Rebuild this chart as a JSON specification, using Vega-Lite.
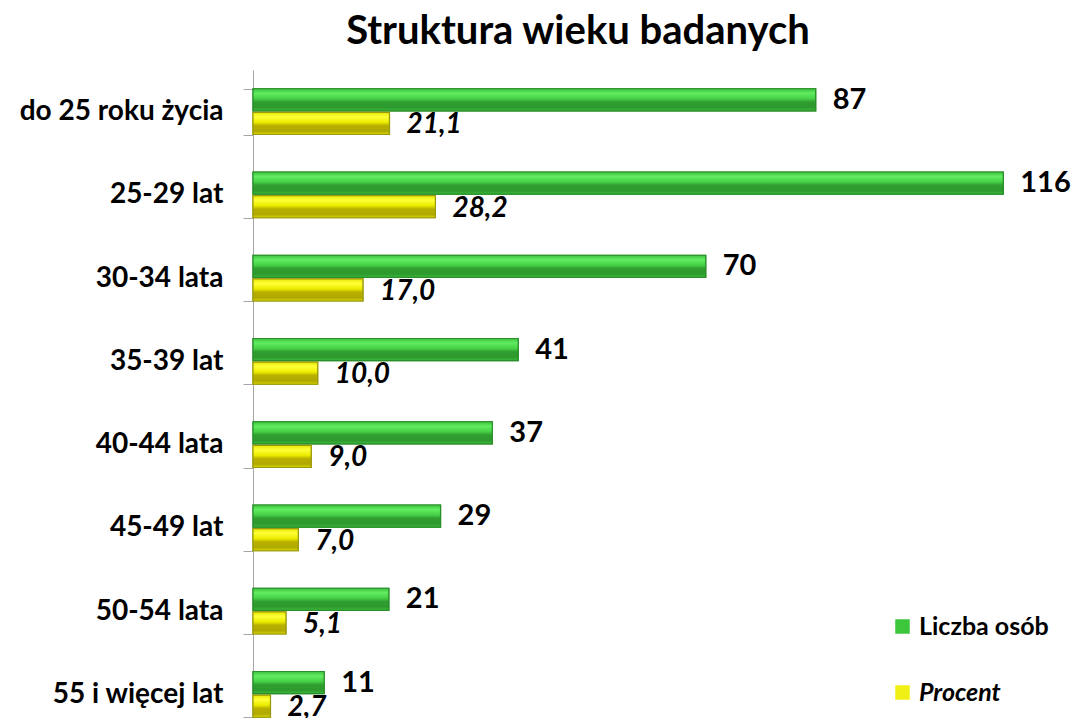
{
  "$schema": "https://vega.github.io/schema/vega-lite/v6.json",
  "width": 802,
  "height": 666,
  "autosize": {"type": "none"},
  "padding": {"left": 253, "top": 70, "right": 16, "bottom": 0},
  "background": "white",
  "config": {
    "view": {"stroke": null},
    "locale": {"number": {"decimal": ",", "thousands": "\u00a0", "grouping": [3], "currency": ["", " zł"]}}
  },
  "title": {
    "text": "Struktura wieku badanych",
    "font": "Lato",
    "fontSize": 40,
    "fontWeight": "bold",
    "color": "#000000",
    "anchor": "middle",
    "dx": -76,
    "offset": 4
  },
  "data": {
    "values": [
      {"category": "do 25 roku życia", "series": "Liczba osób", "value": 87},
      {"category": "do 25 roku życia", "series": "Procent", "value": 21.1},
      {"category": "25-29 lat", "series": "Liczba osób", "value": 116},
      {"category": "25-29 lat", "series": "Procent", "value": 28.2},
      {"category": "30-34 lata", "series": "Liczba osób", "value": 70},
      {"category": "30-34 lata", "series": "Procent", "value": 17.0},
      {"category": "35-39 lat", "series": "Liczba osób", "value": 41},
      {"category": "35-39 lat", "series": "Procent", "value": 10.0},
      {"category": "40-44 lata", "series": "Liczba osób", "value": 37},
      {"category": "40-44 lata", "series": "Procent", "value": 9.0},
      {"category": "45-49 lat", "series": "Liczba osób", "value": 29},
      {"category": "45-49 lat", "series": "Procent", "value": 7.0},
      {"category": "50-54 lata", "series": "Liczba osób", "value": 21},
      {"category": "50-54 lata", "series": "Procent", "value": 5.1},
      {"category": "55 i więcej lat", "series": "Liczba osób", "value": 11},
      {"category": "55 i więcej lat", "series": "Procent", "value": 2.7}
    ]
  },
  "encoding": {
    "y": {
      "field": "category",
      "type": "nominal",
      "sort": ["do 25 roku życia", "25-29 lat", "30-34 lata", "35-39 lat", "40-44 lata", "45-49 lat", "50-54 lata", "55 i więcej lat"],
      "title": null,
      "scale": {"paddingInner": 0.45, "paddingOuter": 0.225},
      "axis": {
        "tickBand": "extent",
        "domainColor": "#a6a6a6",
        "tickColor": "#a6a6a6",
        "tickSize": 10,
        "labelPadding": 20,
        "labelFont": "Lato",
        "labelFontSize": 28,
        "labelFontWeight": "bold",
        "labelColor": "#000000",
        "labelLimit": 400
      }
    },
    "yOffset": {
      "field": "series",
      "type": "nominal",
      "sort": ["Liczba osób", "Procent"],
      "scale": {"paddingInner": 0.06}
    },
    "x": {
      "field": "value",
      "type": "quantitative",
      "scale": {"domain": [0, 124], "nice": false},
      "axis": null
    }
  },
  "layer": [
    {
      "mark": {"type": "bar", "strokeWidth": 1.2},
      "encoding": {
        "color": {
          "field": "series",
          "type": "nominal",
          "sort": ["Liczba osób", "Procent"],
          "scale": {"domain": ["Liczba osób", "Procent"], "range": ["#3cc63c", "#f0f014"]},
          "legend": {
            "title": null,
            "orient": "none",
            "legendX": 637,
            "legendY": 544,
            "padding": 0,
            "symbolType": "square",
            "symbolSize": 210,
            "symbolStrokeWidth": 0,
            "labelFont": "Lato",
            "labelFontSize": 25,
            "labelFontWeight": "bold",
            "labelColor": "#000000",
            "labelOffset": 4,
            "rowPadding": 40,
            "labelLimit": 300,
            "encode": {
              "labels": {"update": {"fontStyle": {"signal": "datum.label === 'Procent' ? 'italic' : 'normal'"}}}
            }
          }
        },
        "stroke": {
          "field": "series",
          "type": "nominal",
          "scale": {"domain": ["Liczba osób", "Procent"], "range": ["#2a8f2a", "#9a9a10"]},
          "legend": null
        }
      }
    },
    {
      "transform": [{"filter": "datum.series === 'Liczba osób'"}],
      "mark": {
        "type": "bar",
        "stroke": "#2a8f2a",
        "strokeWidth": 1.2,
        "fill": {
          "gradient": "linear", "x1": 0, "y1": 0, "x2": 0, "y2": 1,
          "stops": [
            {"offset": 0, "color": "#3cbf3c"},
            {"offset": 0.2, "color": "#62ec62"},
            {"offset": 0.45, "color": "#46d046"},
            {"offset": 0.6, "color": "#2f9d2f"},
            {"offset": 0.85, "color": "#2e9a2e"},
            {"offset": 1, "color": "#3cbc3c"}
          ]
        }
      },
      "encoding": {}
    },
    {
      "transform": [{"filter": "datum.series === 'Procent'"}],
      "mark": {
        "type": "bar",
        "stroke": "#9a9a10",
        "strokeWidth": 1.2,
        "fill": {
          "gradient": "linear", "x1": 0, "y1": 0, "x2": 0, "y2": 1,
          "stops": [
            {"offset": 0, "color": "#e6e600"},
            {"offset": 0.2, "color": "#ffff3a"},
            {"offset": 0.45, "color": "#ecec00"},
            {"offset": 0.6, "color": "#b8b000"},
            {"offset": 0.85, "color": "#b0a800"},
            {"offset": 1, "color": "#d8d800"}
          ]
        }
      },
      "encoding": {}
    },
    {
      "transform": [{"filter": "datum.series === 'Liczba osób'"}],
      "mark": {"type": "text", "align": "left", "baseline": "middle", "dx": 17, "font": "Lato", "fontSize": 29, "fontWeight": "bold", "color": "#000000"},
      "encoding": {"text": {"field": "value", "type": "quantitative", "format": "d"}}
    },
    {
      "transform": [{"filter": "datum.series === 'Procent'"}],
      "mark": {"type": "text", "align": "left", "baseline": "middle", "dx": 17, "dy": 2, "font": "Lato", "fontSize": 28, "fontWeight": "bold", "fontStyle": "italic", "color": "#000000"},
      "encoding": {"text": {"field": "value", "type": "quantitative", "format": ".1f"}}
    }
  ]
}
